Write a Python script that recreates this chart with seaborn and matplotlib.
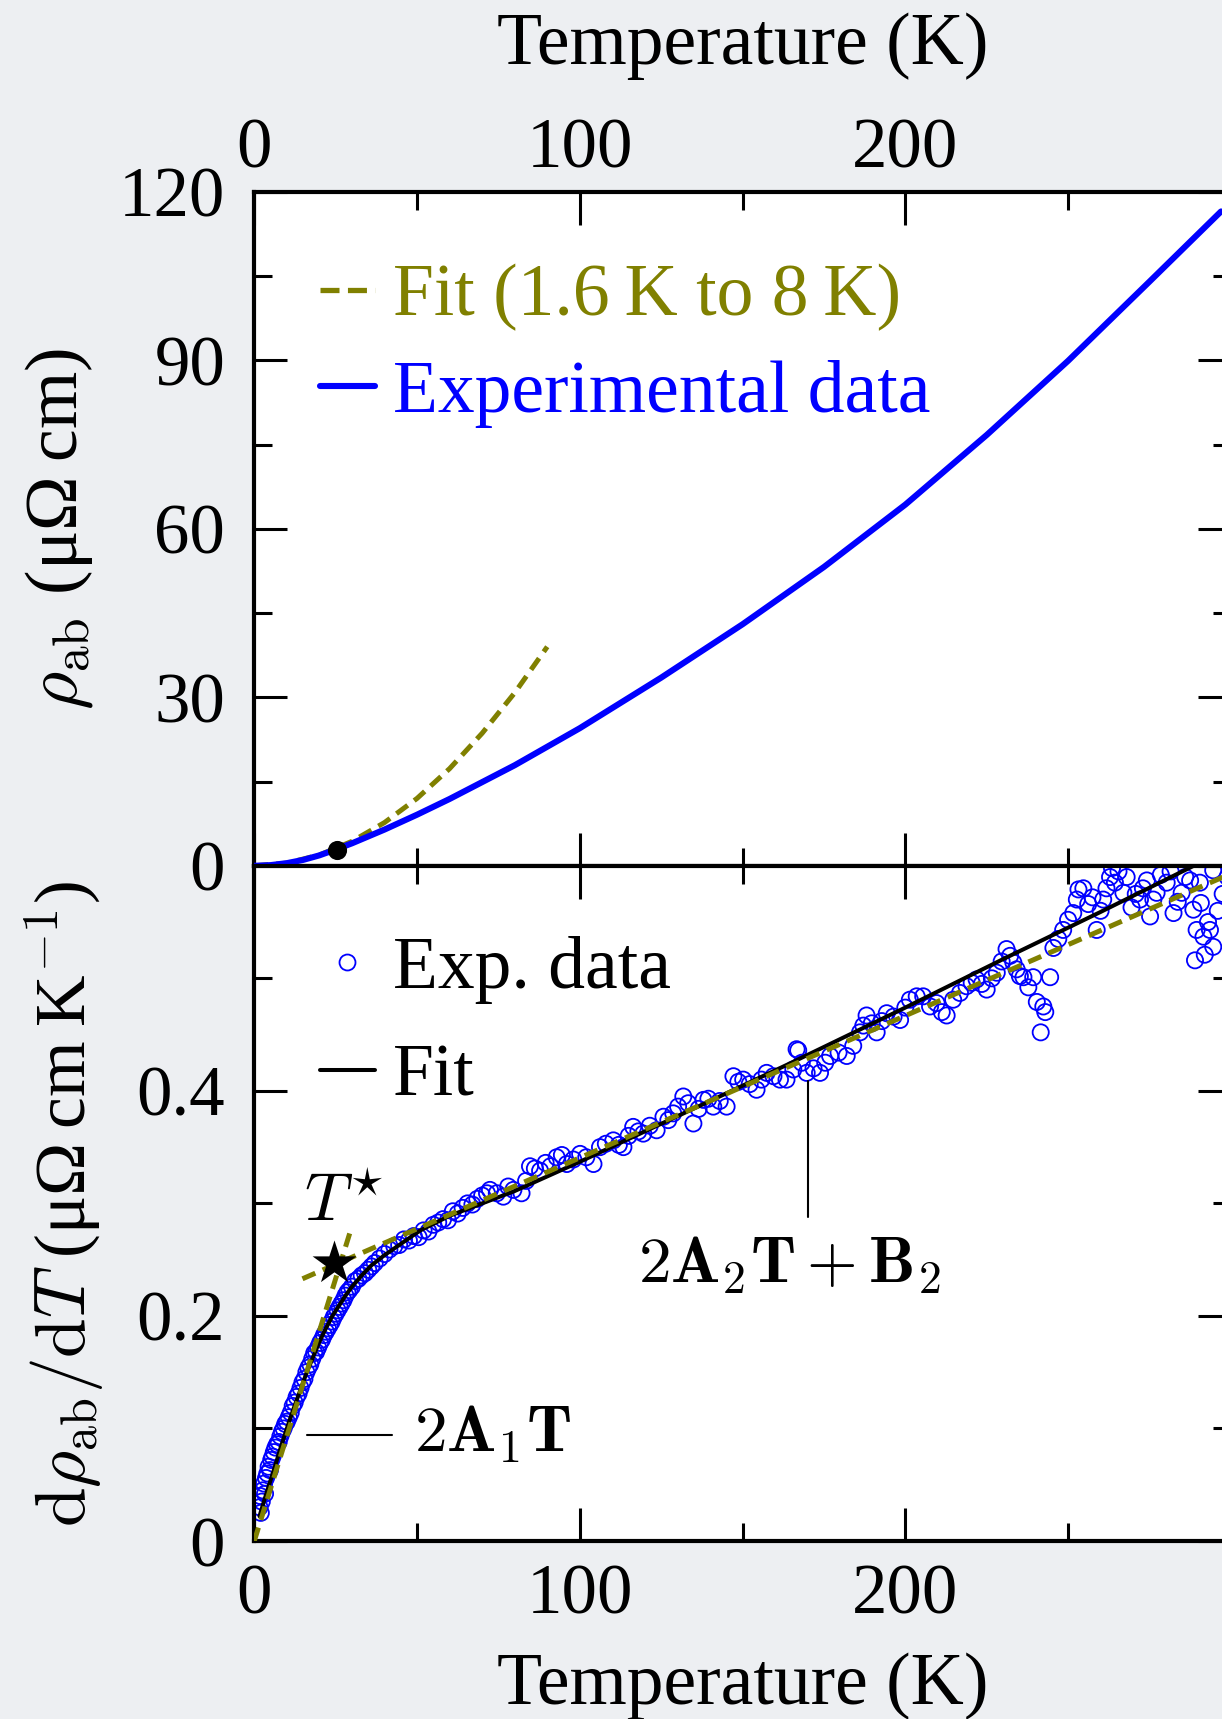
import numpy as np
import pandas as pd
import matplotlib
matplotlib.use("Agg")
import matplotlib.pyplot as plt
import seaborn as sns
from matplotlib.lines import Line2D
from matplotlib.ticker import FixedLocator, FuncFormatter

# ---------------- data ----------------
# upper panel: resistivity
T_rho = [0, 5, 10, 15, 20, 25, 30, 40, 50, 60, 80, 100, 125, 150, 175, 200, 225, 250, 275, 297]
rho = [0.0, 0.12, 0.47, 1.05, 1.86, 2.9, 4.0, 6.45, 9.1, 11.9, 17.9, 24.5, 33.5, 43.0, 53.2, 64.3,
       76.7, 89.9, 104.0, 116.5]
T_rho_fit = [0, 10, 20, 30, 40, 50, 60, 70, 80, 90]
rho_fit = [0.0, 0.48, 1.93, 4.35, 7.7, 12.0, 17.3, 23.6, 30.8, 39.0]
dot_T = [25.3]
dot_rho = [2.9]

# lower panel: derivative, experimental points
T_exp = [1.6, 1.8, 2.0, 2.3, 2.6, 3.0, 3.3, 3.6, 4.0, 4.4, 4.8, 5.2, 5.6, 6.0, 6.5, 7.0, 7.5, 8.0,
         8.5, 9.0, 9.5, 10.0, 10.6, 11.2, 11.8, 12.4, 13.0, 13.6, 14.2, 14.8, 15.4, 16.0, 16.6,
         17.2, 17.8, 18.4, 19.0, 19.6, 20.2, 20.8, 21.4, 22.0, 22.6, 23.2, 23.8, 24.4, 25.0, 25.6,
         26.2, 26.8, 27.4, 28.0, 28.6, 29.2, 30.0, 31.0, 32.0, 33.0, 34.0, 35.0, 36.0, 37.0, 38.5,
         40.0, 41.5, 43.0, 44.5, 46.0, 47.5, 49.0, 50.5, 52.0, 53.5, 55.0, 56.5, 58.0, 59.5, 61.0,
         62.5, 64.0, 65.5, 67.0, 68.5, 70.0, 71.5, 72.4, 74.5, 76.5, 78.0, 79.6, 82.1, 83.5, 84.7,
         86.2, 87.8, 89.5, 91.0, 92.9, 94.5, 96.0, 98.0, 100.1, 102.0, 104.2, 106.2, 108.0, 110.3,
         112.0, 113.4, 115.0, 116.4, 118.0, 119.5, 121.5, 123.6, 125.7, 127.2, 128.7, 130.2, 131.8,
         133.3, 134.9, 136.5, 138.0, 139.5, 141.0, 143.0, 145.1, 147.2, 148.7, 150.2, 152.2, 154.3,
         155.8, 157.4, 159.5, 161.5, 163.5, 165.6, 166.6, 167.1, 168.2, 169.7, 171.8, 173.8, 175.4,
         176.9, 179.5, 182.0, 184.0, 186.1, 187.1, 188.1, 189.7, 191.2, 192.8, 194.3, 196.4, 198.4,
         200.0, 201.4, 203.5, 205.5, 207.6, 209.6, 211.2, 212.7, 214.7, 216.8, 218.8, 220.4, 221.9,
         223.5, 225.0, 226.6, 228.1, 229.6, 231.1, 232.2, 233.2, 234.2, 235.2, 236.3, 237.8, 239.3,
         240.4, 241.6, 242.4, 243.0, 244.5, 245.5, 247.0, 248.5, 250.0, 251.6, 252.7, 253.2, 254.7,
         256.2, 257.5, 258.8, 260.0, 260.8, 261.8, 262.9, 263.5, 264.4, 265.5, 267.0, 268.0, 269.5,
         270.8, 272.1, 273.0, 274.2, 275.2, 276.2, 277.2, 278.5, 280.3, 281.5, 282.4, 283.7, 284.9,
         286.0, 287.5, 288.5, 289.0, 289.5, 290.5, 290.8, 291.6, 292.0, 293.0, 293.6, 294.6, 294.6,
         296.0, 297.5, 299.0]
d_exp = [0.030, 0.040, 0.025, 0.035, 0.045, 0.051, 0.042, 0.056, 0.060, 0.066, 0.063, 0.072, 0.075,
         0.079, 0.083, 0.086, 0.088, 0.093, 0.097, 0.100, 0.104, 0.106, 0.110, 0.114, 0.120, 0.123,
         0.128, 0.131, 0.136, 0.141, 0.144, 0.150, 0.154, 0.157, 0.162, 0.167, 0.168, 0.172, 0.176,
         0.179, 0.183, 0.186, 0.189, 0.192, 0.195, 0.199, 0.202, 0.205, 0.208, 0.211, 0.214, 0.218,
         0.221, 0.223, 0.226, 0.231, 0.233, 0.236, 0.238, 0.241, 0.244, 0.247, 0.251, 0.255, 0.259,
         0.262, 0.263, 0.268, 0.267, 0.271, 0.270, 0.276, 0.275, 0.281, 0.283, 0.286, 0.285, 0.293,
         0.291, 0.296, 0.300, 0.299, 0.304, 0.307, 0.309, 0.312, 0.309, 0.306, 0.315, 0.312, 0.309,
         0.320, 0.333, 0.331, 0.329, 0.336, 0.333, 0.341, 0.343, 0.335, 0.339, 0.344, 0.341, 0.335,
         0.350, 0.353, 0.356, 0.352, 0.350, 0.360, 0.368, 0.364, 0.362, 0.369, 0.365, 0.377, 0.374,
         0.380, 0.386, 0.395, 0.389, 0.371, 0.384, 0.392, 0.393, 0.386, 0.391, 0.386, 0.413, 0.408,
         0.410, 0.406, 0.401, 0.410, 0.416, 0.413, 0.410, 0.410, 0.419, 0.437, 0.436, 0.425, 0.416,
         0.420, 0.416, 0.425, 0.431, 0.434, 0.431, 0.440, 0.452, 0.458, 0.467, 0.460, 0.452, 0.462,
         0.469, 0.466, 0.463, 0.474, 0.481, 0.484, 0.484, 0.475, 0.478, 0.470, 0.467, 0.481, 0.487,
         0.493, 0.496, 0.499, 0.495, 0.490, 0.500, 0.505, 0.515, 0.526, 0.520, 0.514, 0.508, 0.502,
         0.501, 0.492, 0.501, 0.479, 0.452, 0.475, 0.470, 0.501, 0.527, 0.535, 0.543, 0.552, 0.558,
         0.570, 0.579, 0.580, 0.566, 0.572, 0.543, 0.560, 0.570, 0.580, 0.590, 0.598, 0.585, 0.595,
         0.576, 0.590, 0.563, 0.575, 0.570, 0.580, 0.587, 0.555, 0.570, 0.576, 0.592, 0.585, 0.595,
         0.558, 0.568, 0.576, 0.590, 0.587, 0.561, 0.516, 0.543, 0.585, 0.567, 0.537, 0.521, 0.550,
         0.543, 0.528, 0.596, 0.560, 0.575, 0.590]

# lower panel: fit curve
T_dfit = [1.6, 2, 4, 6, 8, 10, 12, 14, 16, 18, 20, 22, 24, 26, 28, 30, 33, 36, 40, 45, 51, 60, 70,
          80, 100, 120, 140, 165, 200, 230, 260, 290, 300]
d_fit = [0.022, 0.026, 0.045, 0.063, 0.082, 0.100, 0.117, 0.133, 0.149, 0.163, 0.177, 0.189, 0.200,
         0.209, 0.218, 0.226, 0.236, 0.245, 0.254, 0.264, 0.276, 0.289, 0.300, 0.311, 0.337, 0.364,
         0.391, 0.425, 0.474, 0.517, 0.559, 0.602, 0.616]

# lower panel: the two linear asymptotes and T*
T_lin1 = [0.0, 29.7]
d_lin1 = [0.0, 0.277]
T_lin2 = [14.8, 300.0]
d_lin2 = [0.233, 0.593]
Tstar_T = [24.6]
Tstar_d = [0.2468]

x_ticks = [0, 100, 200, 300]
x_tick_labels = ["0", "100", "200", ""]
rho_ticks = [0, 30, 60, 90, 120]
rho_tick_labels = ["0", "30", "60", "90", "120"]
d_ticks = [0, 0.2, 0.4, 0.6]
d_tick_labels = ["0", "0.2", "0.4", ""]

# ---------------- style ----------------
BG = "#edeff2"
BLUE = "#0000ff"
OLIVE = "#808000"

sns.set_theme(style="ticks")
plt.rcParams["font.family"] = ["Liberation Serif", "DejaVu Serif"]
plt.rcParams["mathtext.fontset"] = "cm"
plt.rcParams["axes.unicode_minus"] = False
for k in ["text.color", "axes.labelcolor", "xtick.color", "ytick.color", "axes.edgecolor"]:
    plt.rcParams[k] = "black"

W, H = 1222, 1719
fig = plt.figure(figsize=(W / 100, H / 100), dpi=100, facecolor=BG)


def rect(l, t, r, b):
    return [l / W, 1 - b / H, (r - l) / W, (b - t) / H]


ax1 = fig.add_axes(rect(254.3, 191.8, 1230.8, 865.8))
ax2 = fig.add_axes(rect(254.3, 865.8, 1230.8, 1541.0))
for ax in (ax1, ax2):
    ax.set_facecolor("white")
    for s in ax.spines.values():
        s.set_linewidth(3.0)
        s.set_color("black")

TS = 51  # tick label size
FS = 53  # label size


def fmt(labels):
    return FuncFormatter(lambda v, p: labels[p] if p is not None and p < len(labels) else "")


# ---------------- upper panel ----------------
up_fit = pd.DataFrame({"T": T_rho_fit, "rho": rho_fit})
up_exp = pd.DataFrame({"T": T_rho, "rho": rho})
sns.lineplot(data=up_fit, x="T", y="rho", ax=ax1, color=OLIVE, lw=3.6,
             linestyle=(0, (2.8, 1.6)), zorder=2)
sns.lineplot(data=up_exp, x="T", y="rho", ax=ax1, color=BLUE, lw=4.4, zorder=3)
sns.scatterplot(x=dot_T, y=dot_rho, ax=ax1, color="black", s=190, edgecolor="black",
                linewidth=0, zorder=5)

ax1.set_xlim(0, 300)
ax1.set_ylim(0, 120)
ax1.xaxis.set_major_locator(FixedLocator(x_ticks))
ax1.xaxis.set_minor_locator(FixedLocator([50, 150, 250]))
ax1.xaxis.set_major_formatter(fmt(x_tick_labels))
ax1.yaxis.set_major_locator(FixedLocator(rho_ticks))
ax1.yaxis.set_minor_locator(FixedLocator([15, 45, 75, 105]))
ax1.yaxis.set_major_formatter(fmt(rho_tick_labels))
ax1.tick_params(which="both", direction="in", top=True, bottom=True, left=True, right=True,
                labeltop=True, labelbottom=False, width=2.2, labelsize=TS, colors="black")
ax1.tick_params(which="major", length=24)
ax1.tick_params(which="minor", length=13)
ax1.tick_params(axis="x", pad=7)
ax1.tick_params(axis="y", pad=21)

ax1.set_xlabel("Temperature (K)", fontsize=FS)
ax1.xaxis.set_label_position("top")
ax1.xaxis.set_label_coords(0.5, 1.19)
ax1.set_ylabel("$\\rho_{\\rm ab}$ (μΩ\u2009cm)", fontsize=FS)
ax1.yaxis.set_label_coords(-0.163, 0.5)

h_fit = Line2D([], [], color=OLIVE, lw=3.8, dashes=(3.6, 1.6))
h_exp = Line2D([], [], color=BLUE, lw=4.4)
ax1.legend(handles=[h_fit, h_exp], labels=["Fit (1.6\u2009K to 8\u2009K)", "Experimental data"],
           loc="upper left", bbox_to_anchor=(0.067, 0.893), frameon=False, borderpad=0,
           borderaxespad=0, handlelength=0.75, handletextpad=0.25, labelspacing=0.39,
           fontsize=FS, labelcolor=[OLIVE, BLUE])

# ---------------- lower panel ----------------
lo_exp = pd.DataFrame({"T": T_exp, "d": d_exp})
lo_fit = pd.DataFrame({"T": T_dfit, "d": d_fit})
sns.scatterplot(data=lo_exp, x="T", y="d", ax=ax2, marker="o", s=135, facecolors="none",
                edgecolors=BLUE, linewidths=1.3, zorder=2)
sns.lineplot(data=lo_fit, x="T", y="d", ax=ax2, color="black", lw=2.9, zorder=3)
sns.lineplot(x=T_lin1, y=d_lin1, ax=ax2, color=OLIVE, lw=3.6, linestyle=(0, (2.8, 1.6)), zorder=4)
sns.lineplot(x=T_lin2, y=d_lin2, ax=ax2, color=OLIVE, lw=3.6, linestyle=(0, (2.8, 1.6)), zorder=4)
sns.scatterplot(x=Tstar_T, y=Tstar_d, ax=ax2, marker="*", s=1100, color="black",
                edgecolor="black", linewidth=0, zorder=6)

ax2.set_xlim(0, 300)
ax2.set_ylim(0, 0.6)
ax2.xaxis.set_major_locator(FixedLocator(x_ticks))
ax2.xaxis.set_minor_locator(FixedLocator([50, 150, 250]))
ax2.xaxis.set_major_formatter(fmt(x_tick_labels))
ax2.yaxis.set_major_locator(FixedLocator(d_ticks))
ax2.yaxis.set_minor_locator(FixedLocator([0.1, 0.3, 0.5]))
ax2.yaxis.set_major_formatter(fmt(d_tick_labels))
ax2.tick_params(which="both", direction="in", top=True, bottom=True, left=True, right=True,
                labeltop=False, labelbottom=True, width=2.2, labelsize=TS, colors="black")
ax2.tick_params(which="major", length=24)
ax2.tick_params(which="minor", length=13)
ax2.tick_params(axis="x", pad=16)
ax2.tick_params(axis="y", pad=21)

ax2.set_xlabel("Temperature (K)", fontsize=FS)
ax2.xaxis.set_label_coords(0.5, -0.165)
ax2.set_ylabel("$\\mathrm{d}\\rho_{\\mathrm{ab}}/\\mathrm{d}T$ (μΩ\u2009cm\u2009K$^{-1}$)", fontsize=51.5)
ax2.yaxis.set_label_coords(-0.152, 0.5)

# annotations
ann1_T, ann1_d = [16.3, 42.4], [0.0942, 0.0942]
ann2_T, ann2_d = [170.2, 170.2], [0.288, 0.409]
ax2.plot(ann1_T, ann1_d, color="black", lw=1.5, zorder=3)
ax2.plot(ann2_T, ann2_d, color="black", lw=1.5, zorder=3)
ax2.text(49.0, 0.0794, r"$\mathbf{2A_1T}$", fontsize=47, ha="left", va="baseline")
ax2.text(118.0, 0.230, r"$\mathbf{2A_2T+B_2}$", fontsize=47, ha="left", va="baseline")
ax2.text(15.3, 0.284, r"$T^{\star}$", fontsize=48, ha="left", va="baseline")

h_pts = Line2D([], [], marker="o", ls="none", mfc="none", mec=BLUE, ms=11.5, mew=1.3)
h_fit2 = Line2D([], [], color="black", lw=2.9)
ax2.legend(handles=[h_pts, h_fit2], labels=["Exp. data", "Fit"], loc="upper left",
           bbox_to_anchor=(0.067, 0.896), frameon=False, borderpad=0, borderaxespad=0,
           handlelength=0.75, handletextpad=0.25, labelspacing=0.54, fontsize=FS)

fig.savefig("out.png", dpi=100, facecolor=BG)
